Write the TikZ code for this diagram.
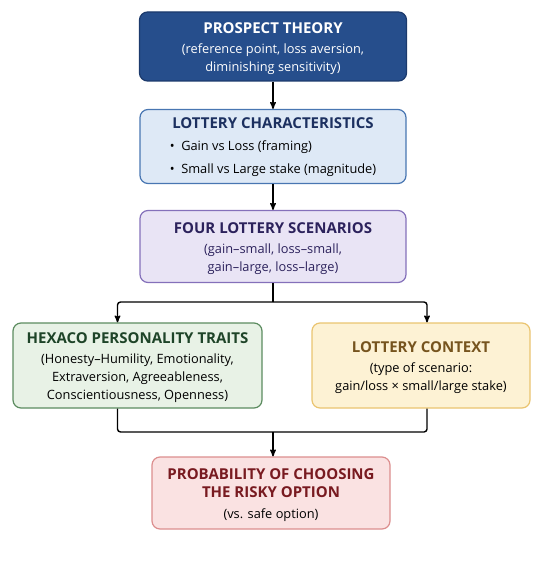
\documentclass[tikz,border=0pt]{standalone}
\usepackage{fontspec}
\setmainfont{Open Sans}
\usepackage{xcolor}
\usetikzlibrary{arrows}

\definecolor{ptfill}{RGB}{38,78,140}
\definecolor{ptdraw}{RGB}{28,58,108}
\definecolor{lcfill}{RGB}{222,233,246}
\definecolor{lcdraw}{RGB}{72,118,178}
\definecolor{lctext}{RGB}{28,48,96}
\definecolor{fsfill}{RGB}{233,228,245}
\definecolor{fsdraw}{RGB}{132,112,186}
\definecolor{fstext}{RGB}{44,34,92}
\definecolor{hxfill}{RGB}{232,242,230}
\definecolor{hxdraw}{RGB}{92,140,96}
\definecolor{hxtext}{RGB}{30,68,40}
\definecolor{ctfill}{RGB}{253,242,212}
\definecolor{ctdraw}{RGB}{234,196,112}
\definecolor{cttext}{RGB}{118,84,30}
\definecolor{prfill}{RGB}{250,226,226}
\definecolor{prdraw}{RGB}{220,142,142}
\definecolor{prtext}{RGB}{120,26,32}

\newcommand{\boxtitle}[1]{{\fontsize{15}{18}\selectfont\bfseries #1}}

\begin{document}
\begin{tikzpicture}[->,>=stealth',node distance=100pt,line width=1.4pt,x=1pt,y=1pt,
  box/.style={draw,rounded corners=8pt,align=center,line width=1.2pt,
    font=\fontsize{12.8}{18}\selectfont}]
\useasboundingbox (0,0) rectangle (550,-561);

\node[box,fill=ptfill,draw=ptdraw,text=white,minimum width=267pt,minimum height=69pt] (A) at (273,-46.5)
  {\rule{0pt}{16pt}\boxtitle{PROSPECT THEORY}\\[2pt](reference point, loss aversion,\\diminishing sensitivity)};
\node[box,fill=lcfill,draw=lcdraw,minimum width=266pt,minimum height=74pt] (B) [below of = A]
  {\rule{0pt}{16pt}\textcolor{lctext}{\boxtitle{LOTTERY CHARACTERISTICS}}\\[5pt]
   \renewcommand{\arraystretch}{1.25}%
   \begin{tabular}{@{}l@{}}\textbullet\ \ Gain vs Loss (framing)\\\textbullet\ \ Small vs Large stake (magnitude)\end{tabular}};
\node[box,fill=fsfill,draw=fsdraw,text=fstext,minimum width=266pt,minimum height=72pt] (C) [below of = B]
  {\rule{0pt}{16pt}\boxtitle{FOUR LOTTERY SCENARIOS}\\[2pt](gain--small, loss--small,\\gain--large, loss--large)};
\node[box,fill=hxfill,draw=hxdraw,minimum width=249pt,minimum height=85pt] (H) at (137.5,-365.5)
  {\rule{0pt}{16pt}\textcolor{hxtext}{\boxtitle{HEXACO PERSONALITY TRAITS}}\\[2pt](Honesty--Humility, Emotionality,\\Extraversion, Agreeableness,\\Conscientiousness, Openness)};
\node[box,fill=ctfill,draw=ctdraw,minimum width=218pt,minimum height=85pt] (K) at (421,-365.5)
  {\rule{0pt}{16pt}\textcolor{cttext}{\boxtitle{LOTTERY CONTEXT}}\\[2pt](type of scenario:\\gain/loss × small/large stake)};
\node[box,fill=prfill,draw=prdraw,minimum width=238pt,minimum height=72pt] (P) at (271,-493)
  {\rule{0pt}{16pt}\textcolor{prtext}{\boxtitle{PROBABILITY OF CHOOSING}}\\
   \textcolor{prtext}{\boxtitle{THE RISKY OPTION}}\\[3pt](vs. safe option)};

\coordinate (split) at (273,-302);
\coordinate (join) at (273,-432);

\path (A) edge (B);
\path (B) edge (C);
\draw[-] (C.south) -- (split);
\draw[rounded corners=3pt] (split) -| ([xshift=-20pt]H.north);
\draw[rounded corners=3pt] (split) -| ([xshift=6pt]K.north);
\draw[-,rounded corners=3pt] ([xshift=-20pt]H.south) |- (join) -| ([xshift=6pt]K.south);
\draw (join) -- (P.north -| join);

\end{tikzpicture}
\end{document}
